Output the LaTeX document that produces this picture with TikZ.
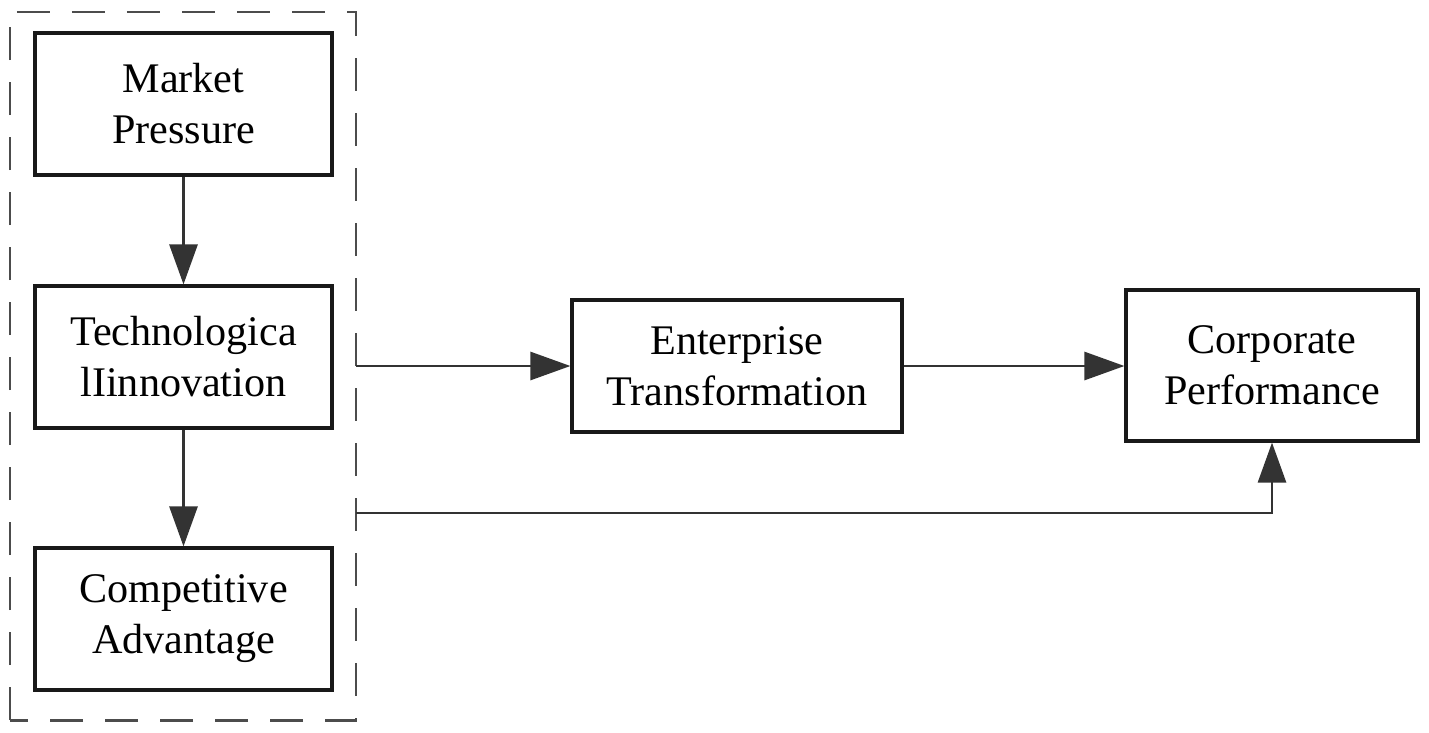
\documentclass[tikz,border=0pt]{standalone}
\usepackage{fontspec}
\setmainfont{Liberation Serif}
\usepackage{tikz}
\usetikzlibrary{positioning,arrows.meta}

\begin{document}
\begin{tikzpicture}[
    every node/.style={font=\fontsize{12}{14.5}\selectfont, align=center},
    factor/.style={draw=black!90, line width=0.9pt, rectangle, inner sep=0pt},
    link/.style={draw=black!80, line width=0.8pt, -{Triangle[length=4mm, width=2.8mm]}},
    group/.style={draw=black!70, line width=0.85pt, dash pattern=on 3.3mm off 2.2mm}
]
    \useasboundingbox (0,0) rectangle (14.29,7.32);
    % Left group
    \draw[group] (0.10,0.12) rectangle (3.56,7.20);
    \node[factor, minimum width=2.97cm, minimum height=1.42cm] (market) at (1.835,6.28) {Market\\Pressure};
    \node[factor, minimum width=2.97cm, minimum height=1.42cm] (techno) at (1.835,3.75) {Technologica\\lIinnovation};
    \node[factor, minimum width=2.97cm, minimum height=1.42cm] (compet) at (1.835,1.13) {Competitive\\Advantage};
    % Right side
    \node[factor, minimum width=3.30cm, minimum height=1.32cm] (enterp) at (7.37,3.66) {Enterprise\\Transformation};
    \node[factor, minimum width=2.92cm, minimum height=1.51cm] (corpor) at (12.72,3.665) {Corporate\\Performance};
    \coordinate (grpA) at (3.56,3.66);
    \coordinate (grpB) at (3.56,2.19);
    % Connectors
    \draw[link] (market) -- (techno);
    \draw[link] (techno) -- (compet);
    \draw[link] (grpA) -- (enterp.west);
    \draw[link] (enterp.east) -- (enterp.east -| corpor.west);
    \draw[link] (grpB) -| (corpor.south);
\end{tikzpicture}
\end{document}
